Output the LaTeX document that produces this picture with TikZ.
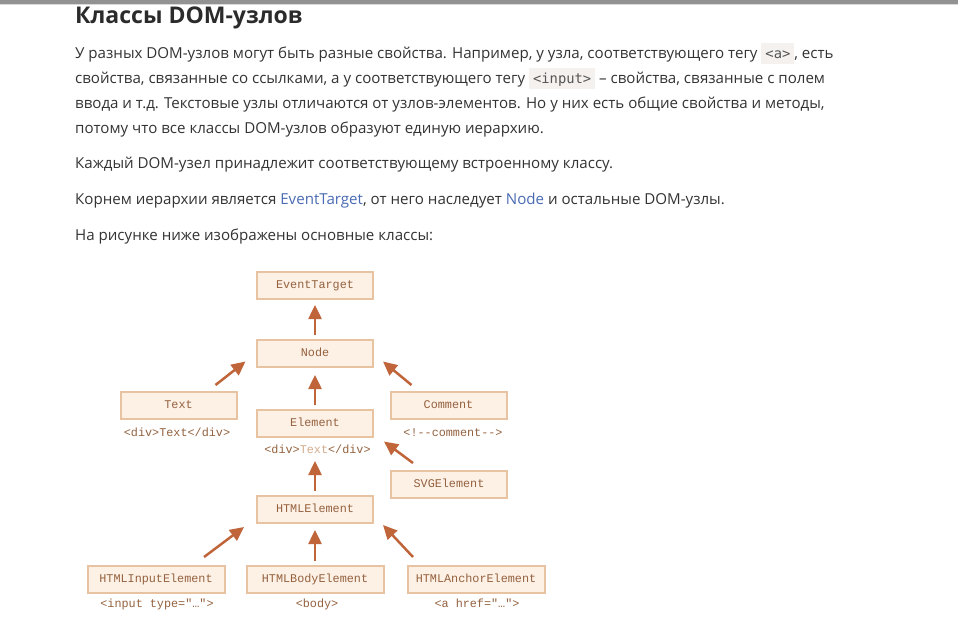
\documentclass[tikz,border=0pt]{standalone}
\usepackage{fontspec}
\setmainfont{Open Sans}
\newfontfamily\monof{Liberation Mono}
\newfontfamily\codef{DejaVu Sans Mono}
\usetikzlibrary{arrows.meta}
\definecolor{arrc}{HTML}{C0653A}
\definecolor{boxfill}{HTML}{FDF0E5}
\definecolor{boxdraw}{HTML}{E8C3A2}
\definecolor{boxtext}{HTML}{94623F}
\definecolor{lighttext}{HTML}{D2AC8C}
\definecolor{bodytext}{HTML}{333333}
\definecolor{titletext}{HTML}{2B2B2B}
\definecolor{linkc}{HTML}{4A6BB3}
\definecolor{codebg}{HTML}{F4F1EF}
\definecolor{codetext}{HTML}{555555}
\newcommand{\icode}[1]{\begingroup\setlength{\fboxsep}{0pt}\colorbox{codebg}{\rule[-5.5pt]{0pt}{21pt}\hspace{4pt}{\codef\fontsize{13.8}{14}\selectfont\color{codetext}#1}\hspace{4pt}}\endgroup}
\begin{document}
\begin{tikzpicture}[x=1pt,y=-1pt,
  para/.style={anchor=base west,inner sep=0pt,text=bodytext,font=\fontsize{15.1}{17}\selectfont},
  cls/.style={draw=boxdraw,line width=2pt,fill=boxfill,minimum width=116pt,minimum height=27pt,inner sep=0pt,text=boxtext,font=\monof\fontsize{11.8}{12}\selectfont,text height=8.5pt,text depth=2.5pt},
  wide/.style={cls,minimum width=137pt},
  lbl/.style={anchor=base,inner sep=0pt,text=boxtext,font=\monof\fontsize{11.8}{12}\selectfont},
  inh/.style={draw=arrc,line width=2.5pt,-{Triangle[length=14pt,width=13pt]}}
]
\useasboundingbox (0,0) rectangle (958,619);
\fill[white] (0,0) rectangle (958,619);
\fill[gray!45!black!55] (0,0) rectangle (958,3.5);
\fill[gray!30] (0,3.5) rectangle (958,4.5);

\node[anchor=base west,inner sep=0pt,text=titletext,font=\bfseries\fontsize{23}{25}\selectfont] (title) at (75,23.5) {Классы DOM-узлов};

\node[para] (l1) at (75,58.5) {У разных DOM-узлов могут быть разные свойства. Например, у узла, соответствующего тегу \icode{<a>}, есть};
\node[para] (l2) at (75,83.5) {свойства, связанные со ссылками, а у соответствующего тегу \icode{<input>} – свойства, связанные с полем};
\node[para] (l3) at (75,108.5) {ввода и т.д. Текстовые узлы отличаются от узлов-элементов. Но у них есть общие свойства и методы,};
\node[para] (l4) at (75,133.5) {потому что все классы DOM-узлов образуют единую иерархию.};
\node[para] (p2) at (75,168.5) {Каждый DOM-узел принадлежит соответствующему встроенному классу.};
\node[para] (p3) at (75,204) {Корнем иерархии является \textcolor{linkc}{EventTarget}, от него наследует \textcolor{linkc}{Node} и остальные DOM-узлы.};
\node[para] (p4) at (75,240.5) {На рисунке ниже изображены основные классы:};

% class boxes
\node[cls] (et) at (315,285) {EventTarget};
\node[cls] (nd) at (315,353) {Node};
\node[cls] (tx) at (178.5,405) {Text};
\node[cls] (el) at (315,423) {Element};
\node[cls] (cm) at (448.5,405) {Comment};
\node[cls] (svg) at (449,484) {SVGElement};
\node[cls] (html) at (315,509) {HTMLElement};
\node[wide] (inp) at (156,579) {HTMLInputElement};
\node[wide] (body) at (315,579) {HTMLBodyElement};
\node[wide] (anch) at (476,579) {HTMLAnchorElement};

% labels
\node[lbl] (txl) at (177,436) {<div>Text</div>};
\node[lbl] (cml) at (453,436) {<!--comment-->};
\node[lbl] (ell) at (317.5,453) {<div>\textcolor{lighttext}{Text}</div>};
\node[lbl] (inpl) at (157,607) {<input type="…">};
\node[lbl] (bodyl) at (317,607) {<body>};
\node[lbl] (anchl) at (477,607) {<a href="…">};

% arrows
\draw[inh,shorten <=3.5pt,shorten >=5.5pt] (nd.north) -- (et.south);
\draw[inh,shorten <=3.5pt,shorten >=7.5pt] (el.north) -- (nd.south);
\draw[inh] ([xshift=-22pt,yshift=5.5pt]tx.north east) -- ([xshift=-10.5pt,yshift=6pt]nd.south west);
\draw[inh] ([xshift=22pt,yshift=5.5pt]cm.north west) -- ([xshift=9pt,yshift=6pt]nd.south east);
\draw[inh] ([xshift=23pt,yshift=6.5pt]svg.north west) -- ([xshift=10pt,yshift=-4pt]el.south east);
\draw[inh,shorten <=3.5pt,shorten >=23.5pt] (html.north) -- (el.south);
\draw[inh,shorten <=3.5pt,shorten >=6.5pt] (body.north) -- (html.south);
\draw[inh] ([xshift=-21.5pt,yshift=7.5pt]inp.north east) -- ([xshift=-12pt,yshift=-3.5pt]html.south west);
\draw[inh] ([xshift=6.5pt,yshift=7.5pt]anch.north west) -- ([xshift=9pt,yshift=-1.5pt]html.south east);
\end{tikzpicture}
\end{document}
